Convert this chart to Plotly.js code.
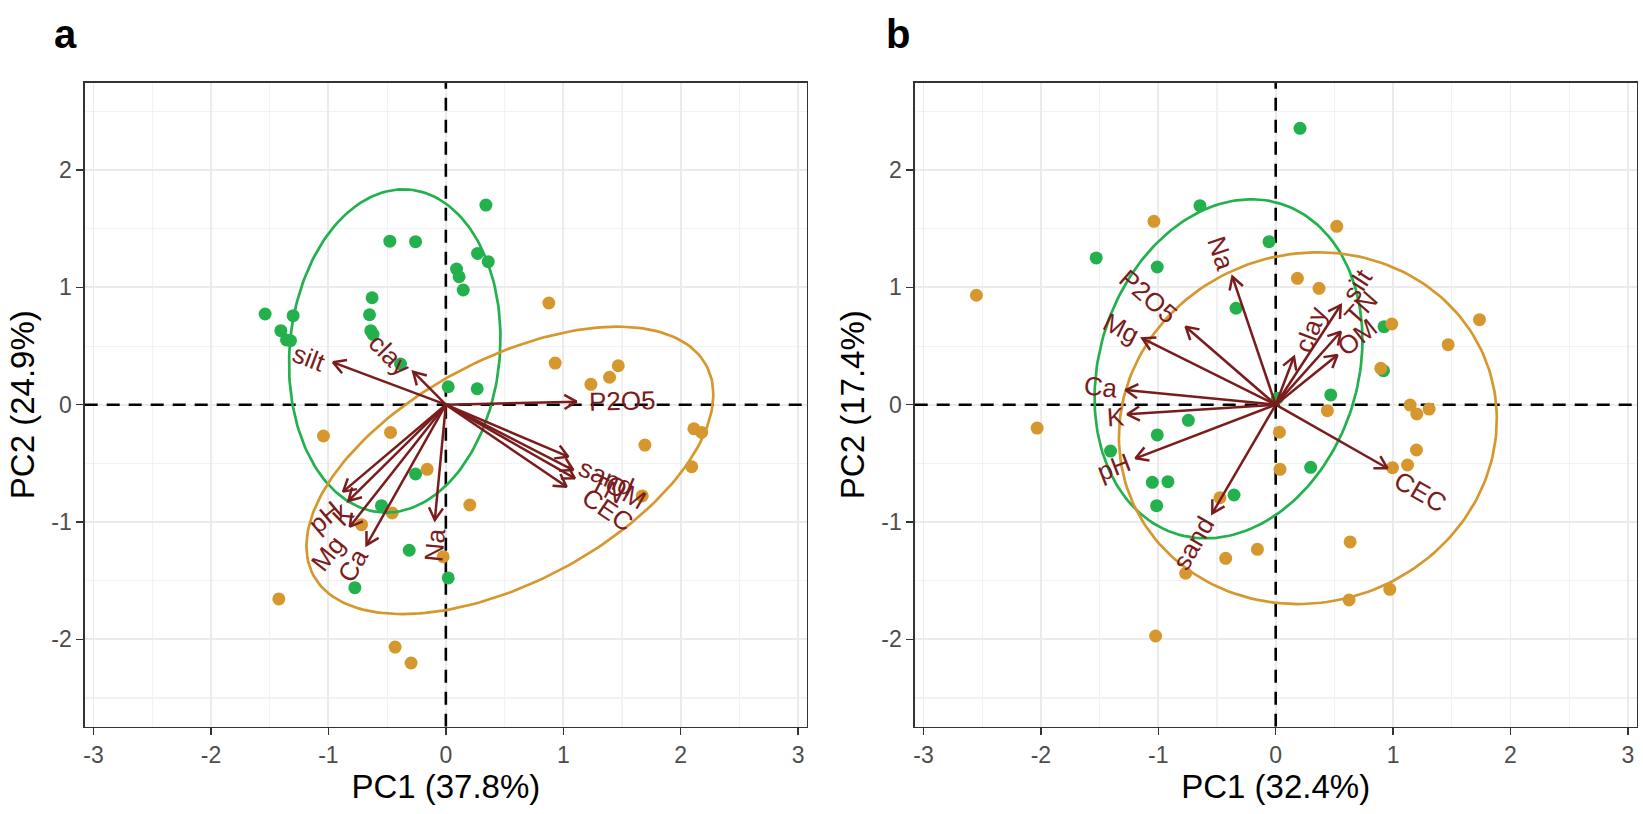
<!DOCTYPE html>
<html>
<head>
<meta charset="utf-8">
<script src="https://cdn.plot.ly/plotly-3.0.1.min.js"></script>
<style>html,body{margin:0;padding:0;background:#fff;}#chart{width:1643px;height:814px;}</style>
</head>
<body>
<div id="chart"></div>
<script>
// ---------- Panel a data ----------
const aGreenX = [-0.477,-0.258,-0.628,-0.65,-0.639,-0.62,-0.386,-1.539,-1.3,-1.405,-1.357,-1.323,0.091,0.113,0.148,0.27,0.361,0.341,0.02,0.267,-0.258,-0.548,-0.312,-0.775,0.02];
const aGreenY = [1.394,1.39,0.912,0.767,0.631,0.60,0.347,0.773,0.759,0.631,0.552,0.546,1.157,1.091,0.978,1.29,1.219,1.702,0.153,0.136,-0.591,-0.861,-1.241,-1.56,-1.477];
const aOrangeX = [-1.042,-0.471,-0.159,-0.457,-0.718,-0.023,-1.422,-0.432,-0.296,0.877,0.931,1.235,1.394,1.468,2.112,2.178,1.695,2.093,1.672,0.204];
const aOrangeY = [-0.267,-0.236,-0.551,-0.923,-1.023,-1.296,-1.656,-2.066,-2.202,0.867,0.355,0.174,0.234,0.332,-0.205,-0.236,-0.344,-0.529,-0.778,-0.855];

const aVars   = ['silt','clay','P2O5','sand','TN','OM','CEC','pH','K','Mg','Ca','Na'];
const aArrowX = [-0.96,-0.278,1.113,1.042,1.085,1.099,1.028,-0.875,-0.83,-0.818,-0.675,-0.094];
const aArrowY = [0.361,0.281,0.026,-0.443,-0.557,-0.628,-0.699,-0.741,-0.82,-1.04,-1.196,-0.983];
const aLabelX = [-1.165,-0.48,1.5,1.36,1.38,1.53,1.38,-1.03,-0.875,-1.0,-0.79,-0.094];
const aLabelY = [0.40,0.42,0.03,-0.62,-0.72,-0.74,-0.90,-0.955,-0.94,-1.267,-1.367,-1.196];

// ellipse parameters: [cx, cy, semi-major, semi-minor, angle deg]
const aEllGreen  = [-0.435, 0.458, 1.381, 0.895, 84.8];
const aEllOrange = [0.545, -0.56, 1.897, 0.95, 28.1];

// ---------- Panel b data ----------
const bGreenX = [-1.529,-0.645,-1.009,-0.057,-0.338,0.207,0.923,0.918,0.469,0.298,0.014,-0.744,-1.009,-1.407,-1.051,-0.918,-1.014,-0.355];
const bGreenY = [1.251,1.697,1.174,1.39,0.822,2.356,0.665,0.29,0.083,-0.534,0.055,-0.133,-0.258,-0.395,-0.662,-0.656,-0.861,-0.77];
const bOrangeX = [-1.037,-2.549,0.52,0.185,0.369,0.989,1.736,1.469,0.895,0.44,1.145,1.202,1.307,1.199,1.123,0.995,0.032,0.037,-0.156,0.634,0.972,0.625,-2.032,-0.475,-0.426,-0.767,-1.023];
const bOrangeY = [1.563,0.933,1.521,1.077,0.992,0.688,0.725,0.512,0.31,-0.051,-0.003,-0.079,-0.037,-0.386,-0.514,-0.537,-0.235,-0.551,-1.233,-1.17,-1.574,-1.665,-0.199,-0.793,-1.31,-1.437,-1.972];

const bVars   = ['Na','P2O5','Mg','Ca','K','pH','sand','CEC','clay','silt','TN','OM'];
const bArrowX = [-0.369,-0.767,-1.136,-1.279,-1.264,-1.194,-0.54,0.952,0.156,0.554,0.554,0.526];
const bArrowY = [1.091,0.665,0.566,0.125,-0.082,-0.457,-0.926,-0.542,0.409,0.85,0.622,0.424];
const bLabelX = [-0.469,-1.08,-1.321,-1.492,-1.364,-1.378,-0.702,1.236,0.298,0.696,0.727,0.696];
const bLabelY = [1.291,0.921,0.651,0.153,-0.102,-0.529,-1.178,-0.742,0.635,1.02,0.822,0.58];

const bEllGreen  = [-0.402, 0.306, 1.476, 1.101, 72.3];
const bEllOrange = [0.274, -0.2, 1.622, 1.486, 18];

// ---------- axis labels ----------
const xTickVals = [-3,-2,-1,0,1,2,3];
const xTickText = ['-3','-2','-1','0','1','2','3'];
const yTickVals = [-2,-1,0,1,2];
const yTickText = ['-2','-1','0','1','2'];
const xTitles = ['PC1 (37.8%)','PC1 (32.4%)'];
const yTitles = ['PC2 (24.9%)','PC2 (17.4%)'];
const panelTags = ['a','b'];

// ---------- styles ----------
const GREEN = '#22B14C';
const ORANGE = '#D6982E';
const ARROW = '#7A1C1C';
const FONT = 'Liberation Sans, Arial, Helvetica, sans-serif';
const XR = [-3.075, 3.075];
const YR = [-2.745, 2.745];
const HEAD_LEN = 0.12;    // arrowhead arm length (data units, equal aspect)
const HEAD_ANG = 30;      // degrees

function ellipsePath(p) {
  const [cx, cy, A, B, deg] = p;
  const t = deg * Math.PI / 180;
  const xs = [], ys = [];
  const n = 200;
  for (let i = 0; i <= n; i++) {
    const u = 2 * Math.PI * i / n;
    const ex = A * Math.cos(u), ey = B * Math.sin(u);
    xs.push(cx + ex * Math.cos(t) - ey * Math.sin(t));
    ys.push(cy + ex * Math.sin(t) + ey * Math.cos(t));
  }
  return {xs, ys};
}

function arrowSegments(axs, ays) {
  const xs = [], ys = [];
  for (let i = 0; i < axs.length; i++) {
    const tx = axs[i], ty = ays[i];
    const th = Math.atan2(ty, tx);
    xs.push(0, tx, null); ys.push(0, ty, null);
    const a1 = th + Math.PI - HEAD_ANG * Math.PI / 180;
    const a2 = th + Math.PI + HEAD_ANG * Math.PI / 180;
    xs.push(tx + HEAD_LEN * Math.cos(a1), tx, tx + HEAD_LEN * Math.cos(a2), null);
    ys.push(ty + HEAD_LEN * Math.sin(a1), ty, ty + HEAD_LEN * Math.sin(a2), null);
  }
  return {xs, ys};
}

const traces = [];
function addPanel(xa, ya, gx, gy, ox, oy, eg, eo, axs, ays) {
  traces.push({x: gx, y: gy, xaxis: xa, yaxis: ya, type: 'scatter', mode: 'markers',
    marker: {color: GREEN, size: 13}, hoverinfo: 'skip'});
  traces.push({x: ox, y: oy, xaxis: xa, yaxis: ya, type: 'scatter', mode: 'markers',
    marker: {color: ORANGE, size: 13}, hoverinfo: 'skip'});
  const g = ellipsePath(eg), o = ellipsePath(eo);
  traces.push({x: g.xs, y: g.ys, xaxis: xa, yaxis: ya, type: 'scatter', mode: 'lines',
    line: {color: GREEN, width: 2.7}, hoverinfo: 'skip'});
  traces.push({x: o.xs, y: o.ys, xaxis: xa, yaxis: ya, type: 'scatter', mode: 'lines',
    line: {color: ORANGE, width: 2.7}, hoverinfo: 'skip'});
  const s = arrowSegments(axs, ays);
  traces.push({x: s.xs, y: s.ys, xaxis: xa, yaxis: ya, type: 'scatter', mode: 'lines',
    line: {color: ARROW, width: 2.5}, connectgaps: false, hoverinfo: 'skip'});
}
addPanel('x', 'y', aGreenX, aGreenY, aOrangeX, aOrangeY, aEllGreen, aEllOrange, aArrowX, aArrowY);
addPanel('x2', 'y2', bGreenX, bGreenY, bOrangeX, bOrangeY, bEllGreen, bEllOrange, bArrowX, bArrowY);

const annotations = [];
function addLabels(xr, yr, vars, axs, ays, lxs, lys) {
  for (let i = 0; i < vars.length; i++) {
    let th = Math.atan2(ays[i], axs[i]) * 180 / Math.PI;
    if (th > 90) th -= 180;
    if (th < -90) th += 180;
    annotations.push({x: lxs[i], y: lys[i], xref: xr, yref: yr, text: vars[i], showarrow: false,
      textangle: -th, font: {family: FONT, size: 26, color: ARROW}, xanchor: 'center', yanchor: 'middle'});
  }
}
addLabels('x', 'y', aVars, aArrowX, aArrowY, aLabelX, aLabelY);
addLabels('x2', 'y2', bVars, bArrowX, bArrowY, bLabelX, bLabelY);

annotations.push({x: 52/1643, y: 1 - 34/814, xref: 'paper', yref: 'paper', text: '<b>' + panelTags[0] + '</b>',
  showarrow: false, xanchor: 'left', yanchor: 'middle', font: {family: FONT, size: 40, color: '#000'}});
annotations.push({x: 884/1643, y: 1 - 34/814, xref: 'paper', yref: 'paper', text: '<b>' + panelTags[1] + '</b>',
  showarrow: false, xanchor: 'left', yanchor: 'middle', font: {family: FONT, size: 40, color: '#000'}});

const shapes = [];
[['x','y'],['x2','y2']].forEach(([xr, yr]) => {
  shapes.push({type: 'line', xref: xr, yref: yr, x0: 0, x1: 0, y0: YR[0], y1: YR[1], layer: 'between',
    line: {color: '#000', width: 2.6, dash: '13px,9px'}});
  shapes.push({type: 'line', xref: xr, yref: yr, x0: XR[0], x1: XR[1], y0: 0, y1: 0, layer: 'between',
    line: {color: '#000', width: 2.6, dash: '13px,9px'}});
});

function axisCommon(title) {
  return {
    showgrid: true, gridcolor: '#EBEBEB', gridwidth: 1.8, zeroline: false,
    minor: {tickvals: [-2.5,-1.5,-0.5,0.5,1.5,2.5], showgrid: true, gridcolor: '#F2F2F2', gridwidth: 1.1, ticks: ''},
    showline: true, mirror: true, linecolor: '#333333', linewidth: 1.4,
    ticks: 'outside', ticklen: 7, tickwidth: 1.4, tickcolor: '#333333',
    tickfont: {family: FONT, size: 23, color: '#4D4D4D'},
    title: {text: title, font: {family: FONT, size: 33, color: '#000'}, standoff: 6},
    automargin: false, fixedrange: true};
}
function xAxis(dom, title, anchor) {
  return Object.assign(axisCommon(title), {domain: dom, range: XR, anchor: anchor, tickvals: xTickVals, ticktext: xTickText});
}
function yAxis(title, anchor) {
  return Object.assign(axisCommon(title), {domain: [0.10725, 0.8984], range: YR, anchor: anchor, tickvals: yTickVals, ticktext: yTickText});
}

const layout = {
  width: 1643, height: 814,
  margin: {l: 0, r: 0, t: 0, b: 0},
  paper_bgcolor: '#fff', plot_bgcolor: '#fff',
  showlegend: false,
  xaxis: xAxis([84.7/1643, 807/1643], xTitles[0], 'y'),
  yaxis: yAxis(yTitles[0], 'x'),
  xaxis2: xAxis([914.7/1643, 1636.7/1643], xTitles[1], 'y2'),
  yaxis2: yAxis(yTitles[1], 'x2'),
  annotations: annotations,
  shapes: shapes
};

Plotly.newPlot('chart', traces, layout, {staticPlot: true, displayModeBar: false});
</script>
</body>
</html>
